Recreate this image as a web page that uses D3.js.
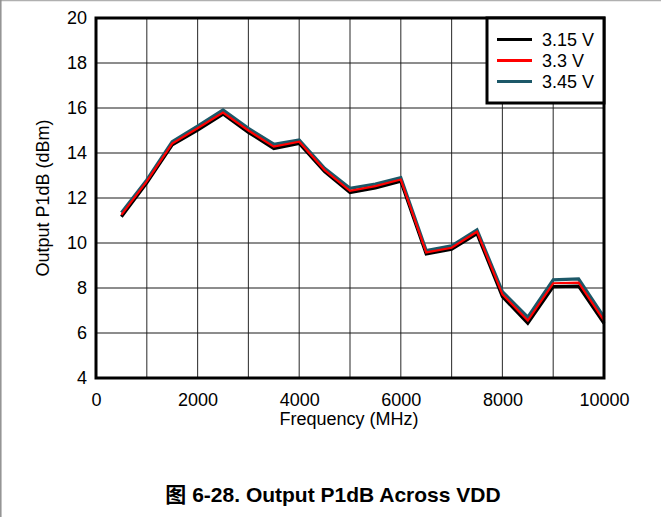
<!DOCTYPE html>
<html><head><meta charset="utf-8">
<script src="https://cdn.jsdelivr.net/npm/d3@7"></script>
<style>
body{margin:0;background:#fff;}
svg{display:block;font-family:"Liberation Sans",Arial,"Noto Sans CJK SC",sans-serif;}
</style></head>
<body>
<script>
const freqs = [500,1000,1500,2000,2500,3000,3500,4000,4500,5000,5500,6000,6500,7000,7500,8000,8500,9000,9500,10000];
const v315 = [11.17,12.68,14.36,15.02,15.73,14.92,14.2,14.43,13.17,12.24,12.45,12.75,9.51,9.72,10.42,7.62,6.43,8.06,8.08,6.43];
const v330 = [11.25,12.74,14.42,15.1,15.8,15.0,14.28,14.5,13.24,12.32,12.53,12.82,9.58,9.79,10.5,7.72,6.55,8.21,8.24,6.55];
const v345 = [11.35,12.8,14.5,15.2,15.91,15.1,14.39,14.58,13.32,12.43,12.62,12.9,9.66,9.87,10.58,7.84,6.7,8.36,8.4,6.7];
const seriesNames = ["3.15 V","3.3 V","3.45 V"];
const seriesColors = ["#000000","#ff0000","#1c5868"];
const xTicks = [0,2000,4000,6000,8000,10000];
const yTicks = [4,6,8,10,12,14,16,18,20];
const xTitle = "Frequency (MHz)";
const yTitle = "Output P1dB (dBm)";
const caption = "图 6-28. Output P1dB Across VDD";

const W=661,H=517;
const L=96,R=604,T=18,B=378;
const FS=18;
const svg=d3.select("body").append("svg").attr("width",W).attr("height",H);
// page border (top + left)
svg.append("line").attr("x1",0).attr("x2",W).attr("y1",0.5).attr("y2",0.5).attr("stroke","#b0b0b0").attr("stroke-width",1.5);
svg.append("line").attr("x1",0.8).attr("x2",0.8).attr("y1",0).attr("y2",H).attr("stroke","#909090").attr("stroke-width",1.5);

const x=d3.scaleLinear().domain([0,10000]).range([L,R]);
const y=d3.scaleLinear().domain([4,20]).range([B,T]);

// grid
const g=svg.append("g");
g.selectAll(".vg").data(d3.range(1000,10000,1000)).join("line")
 .attr("x1",d=>x(d)).attr("x2",d=>x(d)).attr("y1",T).attr("y2",B)
 .attr("stroke","#3a3a3a").attr("stroke-width",1.1);
g.selectAll(".hg").data(d3.range(6,20,2)).join("line")
 .attr("y1",d=>y(d)).attr("y2",d=>y(d)).attr("x1",L).attr("x2",R)
 .attr("stroke","#1a1a1a").attr("stroke-width",1);

// axes labels via d3 axes
const xa=svg.append("g").attr("transform",`translate(0,${B})`)
 .call(d3.axisBottom(x).tickValues(xTicks).tickSize(0).tickPadding(15).tickFormat(d3.format("d")));
xa.select(".domain").remove();
xa.selectAll("text").attr("font-size",FS).attr("fill","#000").attr("font-family","Liberation Sans, Arial, sans-serif");
const ya=svg.append("g").attr("transform",`translate(${L},0)`)
 .call(d3.axisLeft(y).tickValues(yTicks).tickSize(0).tickPadding(9));
ya.select(".domain").remove();
ya.selectAll("text").attr("font-size",FS).attr("fill","#000").attr("font-family","Liberation Sans, Arial, sans-serif");

// lines
const data=[v315,v330,v345];
const widths=[3.2,2.2,3.2];
const line=d3.line().x((d,i)=>x(freqs[i])).y(d=>y(d));
[0,2,1].forEach(k=>{
  svg.append("path").datum(data[k]).attr("d",line).attr("fill","none")
   .attr("stroke",seriesColors[k]).attr("stroke-width",widths[k]).attr("stroke-linejoin","miter");
});

// frame
svg.append("rect").attr("x",L).attr("y",T).attr("width",R-L).attr("height",B-T)
 .attr("fill","none").attr("stroke","#000").attr("stroke-width",3);

// legend
const lg=svg.append("g");
const lx0=487, ly0=T, lw=R-487, lh=85;
lg.append("rect").attr("x",lx0).attr("y",ly0).attr("width",lw).attr("height",lh)
 .attr("fill","#fff").attr("stroke","#000").attr("stroke-width",3);
seriesNames.forEach((n,i)=>{
  const yy=39.5+i*21;
  lg.append("line").attr("x1",497).attr("x2",532).attr("y1",yy).attr("y2",yy)
   .attr("stroke",seriesColors[i]).attr("stroke-width",3);
  lg.append("text").attr("x",542).attr("y",yy+6.5).attr("font-size",FS).text(n);
});

// titles
svg.append("text").attr("x",349).attr("y",425).attr("text-anchor","middle")
 .attr("font-size",FS).text(xTitle);
svg.append("text").attr("transform",`translate(49,${(T+B)/2}) rotate(-90)`)
 .attr("text-anchor","middle").attr("font-size",FS).text(yTitle);
svg.append("text").attr("x",333).attr("y",502).attr("text-anchor","middle")
 .attr("font-size",21).attr("font-weight","bold").text(caption);
</script>
</body></html>
